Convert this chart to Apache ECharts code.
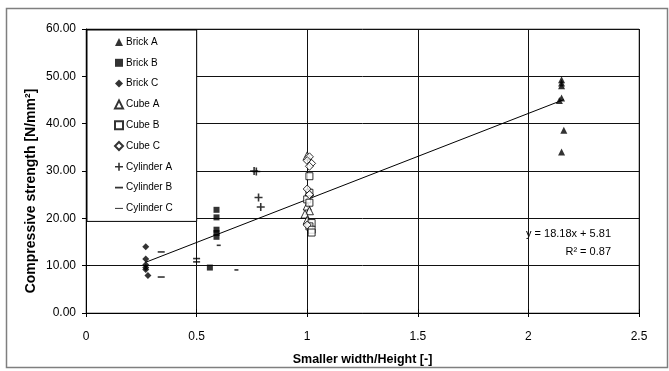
<!DOCTYPE html>
<html>
<head>
<meta charset="utf-8">
<script src="https://cdn.jsdelivr.net/npm/echarts@6/dist/echarts.min.js"></script>
<style>
  html, body { margin: 0; padding: 0; background: #fff; }
  #chart { width: 669px; height: 371px; }
</style>
</head>
<body>
<div id="chart"></div>
<script>
// Compressive strength of masonry specimens against slenderness (smaller width / height)

const brickAx = [2.15, 2.15, 2.15, 2.15, 2.14, 2.16, 2.15];
const brickAy = [49.3, 48.6, 48.0, 45.4, 44.9, 38.6, 34.0];

const brickBx = [0.59, 0.59, 0.59, 0.59, 0.59, 0.56];
const brickBy = [21.8, 20.2, 17.6, 16.9, 16.1, 9.6];

const brickCx = [0.27, 0.27, 0.27, 0.27, 0.27, 0.28];
const brickCy = [14.0, 11.4, 10.2, 9.6, 9.2, 7.9];

const cubeAx = [1.0, 1.01, 1.0, 1.01, 0.99, 1.0];
const cubeAy = [33.2, 25.6, 22.6, 21.6, 20.9, 19.6];

const cubeBx = [1.01, 1.01, 1.0, 1.01, 1.02, 1.01, 1.02, 1.02];
const cubeBy = [28.9, 25.4, 24.0, 23.3, 19.0, 18.3, 17.6, 17.0];

const cubeCx = [1.01, 1.0, 1.02, 1.01, 1.0, 1.01, 1.0];
const cubeCy = [33.0, 32.2, 31.6, 31.0, 26.2, 25.0, 18.6];

const cylAx = [0.76, 0.77, 0.78, 0.79];
const cylAy = [30.0, 29.9, 24.4, 22.4];

const cylBx = [0.6, 0.68];
const cylBy = [14.3, 9.1];

const cylCx = [0.34, 0.34, 0.5, 0.5];
const cylCy = [12.9, 7.6, 11.5, 10.8];

// Linear trend line over all specimens
const trendSlope = 18.18;
const trendIntercept = 5.81;
const trendR2 = 0.87;

const xTicks = [0, 0.5, 1, 1.5, 2, 2.5];
const yTicks = [0, 10, 20, 30, 40, 50, 60];

const pairs = (xs, ys) => xs.map((x, i) => [x, ys[i]]);

const allX = [].concat(brickAx, brickBx, brickCx, cubeAx, cubeBx, cubeCx, cylAx, cylBx, cylCx);
const xLo = Math.min.apply(null, allX);
const xHi = Math.max.apply(null, allX);
const trendData = [[xLo, trendSlope * xLo + trendIntercept], [xHi, trendSlope * xHi + trendIntercept]];

const FONT = '"Liberation Sans", Arial, sans-serif';
const plusPath = 'path://M4,0H6V4H10V6H6V10H4V6H0V4H4Z';
const shortDash = 'path://M0,0H10V2.2H0Z';
const longDash = 'path://M0,0H16V2H0Z';

const filled = { color: '#000' };
const hollow = { color: '#fff', borderColor: '#000', borderWidth: 1 };

function scatter(name, xs, ys, symbol, size, style, keep) {
  return {
    name: name,
    type: 'scatter',
    data: pairs(xs, ys),
    symbol: symbol,
    symbolSize: size,
    symbolKeepAspect: keep !== false,
    itemStyle: style,
    emphasis: { disabled: true },
    z: 5
  };
}

const chart = echarts.init(document.getElementById('chart'), null, { renderer: 'canvas' });

const tickMin = xTicks[0], tickMax = xTicks[xTicks.length - 1];
const yMin = yTicks[0], yMax = yTicks[yTicks.length - 1];

chart.setOption({
  animation: false,
  backgroundColor: '#fff',
  grid: {
    left: 86, right: 30, top: 29, bottom: 54,
    show: true, borderColor: '#7f7f7f', borderWidth: 1, backgroundColor: '#fff'
  },
  legend: {
    orient: 'vertical',
    left: 87, top: 30,
    padding: [6, 24, 7, 27],
    itemGap: 8.8,
    itemWidth: 8, itemHeight: 8,
    backgroundColor: '#fff',
    borderColor: '#000', borderWidth: 1,
    textStyle: { fontFamily: FONT, fontSize: 10, color: '#000', lineHeight: 12, padding: [0, 0, 0, -2] },
    data: [
      { name: 'Brick A', icon: 'triangle' },
      { name: 'Brick B', icon: 'rect' },
      { name: 'Brick C', icon: 'diamond' },
      { name: 'Cube A', icon: 'triangle' },
      { name: 'Cube B', icon: 'rect' },
      { name: 'Cube C', icon: 'diamond' },
      { name: 'Cylinder A', icon: plusPath },
      { name: 'Cylinder B', icon: shortDash },
      { name: 'Cylinder C', icon: longDash }
    ],
    z: 10
  },
  xAxis: [{
    type: 'value', min: tickMin, max: tickMax, interval: 0.5,
    name: 'Smaller width/Height [-]',
    nameLocation: 'middle', nameGap: 40,
    nameTextStyle: { fontFamily: FONT, fontSize: 12.5, fontWeight: 'bold', color: '#000' },
    axisLine: { show: true, onZero: false, lineStyle: { color: '#000', width: 1 } },
    axisTick: { show: true, length: 4, lineStyle: { color: '#000' } },
    axisLabel: { fontFamily: FONT, fontSize: 12, color: '#000', margin: 18 },
    splitLine: { show: true, lineStyle: { color: '#111', width: 1 } }
  }, {
    type: 'value', min: tickMin, max: tickMax, interval: 0.5, position: 'bottom',
    axisLine: { show: false },
    axisTick: { show: true, inside: true, length: 4, lineStyle: { color: '#000' } },
    axisLabel: { show: false },
    splitLine: { show: false }
  }],
  yAxis: [{
    type: 'value', min: yMin, max: yMax, interval: 10,
    axisLine: { show: true, onZero: false, lineStyle: { color: '#000', width: 1 } },
    axisTick: { show: true, length: 4, lineStyle: { color: '#000' } },
    axisLabel: { fontFamily: FONT, fontSize: 12, color: '#000', margin: 10,
                 formatter: v => v.toFixed(2) },
    splitLine: { show: true, lineStyle: { color: '#111', width: 1 } }
  }, {
    type: 'value', min: yMin, max: yMax, interval: 10, position: 'left',
    axisLine: { show: false },
    axisTick: { show: true, inside: true, length: 4, lineStyle: { color: '#000' } },
    axisLabel: { show: false },
    splitLine: { show: false }
  }],
  graphic: [
    {
      type: 'rect', left: 4, top: 6, silent: true, z: -10,
      shape: { width: 661, height: 359 },
      style: { fill: 'none', stroke: '#7f7f7f', lineWidth: 1.5 }
    },
    {
      type: 'text', x: 31, y: 191, rotation: Math.PI / 2, silent: true,
      style: {
        text: 'Compressive strength [N/mm²]',
        font: 'bold 14px ' + FONT, fill: '#000',
        align: 'center', verticalAlign: 'middle'
      }
    },
    {
      type: 'text', x: 611, y: 234, silent: true,
      style: {
        text: 'y = ' + trendSlope.toFixed(2) + 'x + ' + trendIntercept.toFixed(2),
        font: '11px ' + FONT, fill: '#000', align: 'right', verticalAlign: 'middle'
      }
    },
    {
      type: 'text', x: 611, y: 252, silent: true,
      style: {
        text: 'R² = ' + trendR2.toFixed(2),
        font: '11px ' + FONT, fill: '#000', align: 'right', verticalAlign: 'middle'
      }
    }
  ],
  series: [
    {
      name: 'trend', type: 'line', data: trendData,
      showSymbol: false, symbol: 'none',
      lineStyle: { color: '#000', width: 1 },
      emphasis: { disabled: true }, z: 4
    },
    scatter('Brick A', brickAx, brickAy, 'triangle', 7, filled),
    scatter('Brick B', brickBx, brickBy, 'rect', 6, filled),
    scatter('Brick C', brickCx, brickCy, 'diamond', 7, filled),
    scatter('Cube A', cubeAx, cubeAy, 'triangle', 8, hollow),
    scatter('Cube B', cubeBx, cubeBy, 'rect', 7, hollow),
    scatter('Cube C', cubeCx, cubeCy, 'diamond', 8, hollow),
    scatter('Cylinder A', cylAx, cylAy, plusPath, 8, filled),
    scatter('Cylinder B', cylBx, cylBy, 'rect', [4, 1.6], filled, false),
    scatter('Cylinder C', cylCx, cylCy, 'rect', [7, 1.6], filled, false)
  ]
});
</script>
</body>
</html>
